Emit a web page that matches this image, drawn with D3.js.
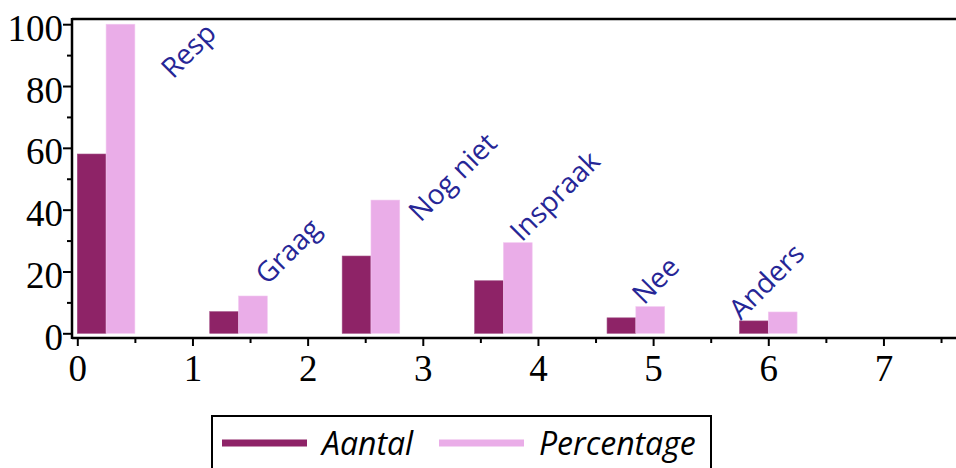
<!DOCTYPE html>
<html>
<head>
<meta charset="utf-8">
<script src="https://cdn.jsdelivr.net/npm/d3@7"></script>
<style>
  body { margin: 0; background: #fff; }
  svg { display: block; }
  .tick text { font-family: "Liberation Serif", "Times New Roman", serif; }
</style>
</head>
<body>
<div id="chart"></div>
<script>
// bar chart data
const categories = ['Resp', 'Graag', 'Nog niet', 'Inspraak', 'Nee', 'Anders'];
const groupStart = [0, 1.15, 2.3, 3.45, 4.6, 5.75];
const aantal = [58, 7, 25, 17, 5, 4];
const percentage = [100, 12.07, 43.1, 29.31, 8.62, 6.9];
// label anchors in data units (x, y)
const labelX = [0.83, 1.65, 2.98, 3.86, 4.92, 5.76];
const labelY = [82.0, 15.4, 35.7, 29.3, 8.9, 4.0];
const xTicks = [0, 1, 2, 3, 4, 5, 6, 7];
const yTicks = [0, 20, 40, 60, 80, 100];

const width = 956, height = 468;
const barW = 0.25;
const colors = { aantal: '#8e2367', pct: '#eaade8' };

const svg = d3.select('#chart').append('svg')
    .attr('width', width)
    .attr('height', height);

const x = d3.scaleLinear().domain([0, 7.63]).range([77.3, 956]);
const y = d3.scaleLinear().domain([0, 100]).range([333.3, 24.2]);

const axisX = 72, axisY = 338, topY = 19;

// bars
const g = svg.append('g');
g.selectAll('.bar-a')
    .data(aantal)
    .enter().append('rect')
    .attr('class', 'bar-a')
    .attr('x', (d, i) => x(groupStart[i]))
    .attr('width', (d, i) => x(groupStart[i] + barW) - x(groupStart[i]))
    .attr('y', d => y(d))
    .attr('height', d => y(0) - y(d))
    .attr('fill', colors.aantal)
    .attr('stroke', '#a04a82')
    .attr('stroke-width', 0.6);

g.selectAll('.bar-p')
    .data(percentage)
    .enter().append('rect')
    .attr('class', 'bar-p')
    .attr('x', (d, i) => x(groupStart[i] + barW))
    .attr('width', (d, i) => x(groupStart[i] + 2 * barW) - x(groupStart[i] + barW))
    .attr('y', d => y(d))
    .attr('height', d => y(0) - y(d))
    .attr('fill', colors.pct)
    .attr('stroke', '#f2c8f0')
    .attr('stroke-width', 0.6);

// x axis: major + minor ticks
const xAxisG = svg.append('g').attr('transform', `translate(0,${axisY})`);
xAxisG.call(d3.axisBottom(x).tickValues(xTicks).tickSize(8).tickPadding(6).tickFormat(d3.format('d')));
xAxisG.append('g').call(d3.axisBottom(x).tickValues(xTicks.map(t => t + 0.5)).tickSize(5).tickFormat(''));
xAxisG.selectAll('.domain').remove();
xAxisG.selectAll('line').attr('stroke', '#000').attr('stroke-width', 2);
xAxisG.selectAll('text')
    .attr('font-size', 37)
    .attr('fill', '#000')
    .attr('dy', null)
    .attr('y', 43);

// y axis
const yAxisG = svg.append('g').attr('transform', `translate(${axisX},0)`);
yAxisG.call(d3.axisLeft(y).tickValues(yTicks).tickSize(9).tickPadding(0).tickFormat(d3.format('d')));
yAxisG.append('g').call(d3.axisLeft(y).tickValues(yTicks.slice(0, -1).map(t => t + 10)).tickSize(5).tickFormat(''));
yAxisG.selectAll('.domain').remove();
yAxisG.selectAll('line').attr('stroke', '#000').attr('stroke-width', 2);
yAxisG.selectAll('text')
    .attr('font-size', 37)
    .attr('fill', '#000')
    .attr('dy', null)
    .attr('y', 16);

// frame lines
svg.append('line')
    .attr('x1', axisX).attr('x2', width)
    .attr('y1', axisY).attr('y2', axisY)
    .attr('stroke', '#000').attr('stroke-width', 2.5);
svg.append('line')
    .attr('x1', axisX).attr('x2', width)
    .attr('y1', topY).attr('y2', topY)
    .attr('stroke', '#000').attr('stroke-width', 2.5);
svg.append('line')
    .attr('x1', axisX).attr('x2', axisX)
    .attr('y1', topY - 1).attr('y2', axisY + 1)
    .attr('stroke', '#000').attr('stroke-width', 2.5);

// rotated category labels
svg.selectAll('.cat-label')
    .data(categories)
    .enter().append('text')
    .attr('class', 'cat-label')
    .attr('transform', (d, i) => `translate(${x(labelX[i])},${y(labelY[i])}) rotate(-45)`)
    .attr('font-family', '"Open Sans", "Noto Sans", sans-serif')
    .attr('font-size', 28)
    .attr('fill', '#262696')
    .text(d => d);

// legend
const legend = svg.append('g');
legend.append('rect')
    .attr('x', 212).attr('y', 416)
    .attr('width', 499).attr('height', 70)
    .attr('fill', 'none')
    .attr('stroke', '#000')
    .attr('stroke-width', 2);

const legendItems = [
    { name: 'Aantal', color: colors.aantal, x: 222 },
    { name: 'Percentage', color: colors.pct, x: 439 }
];
legendItems.forEach(item => {
    legend.append('line')
        .attr('x1', item.x).attr('x2', item.x + 85)
        .attr('y1', 443).attr('y2', 443)
        .attr('stroke', item.color)
        .attr('stroke-width', 7);
    legend.append('text')
        .attr('x', item.x + 100)
        .attr('y', 455)
        .attr('font-family', '"Open Sans", "Noto Sans", sans-serif')
        .attr('font-style', 'italic')
        .attr('font-size', 32)
        .attr('fill', '#000')
        .text(item.name);
});
</script>
</body>
</html>
